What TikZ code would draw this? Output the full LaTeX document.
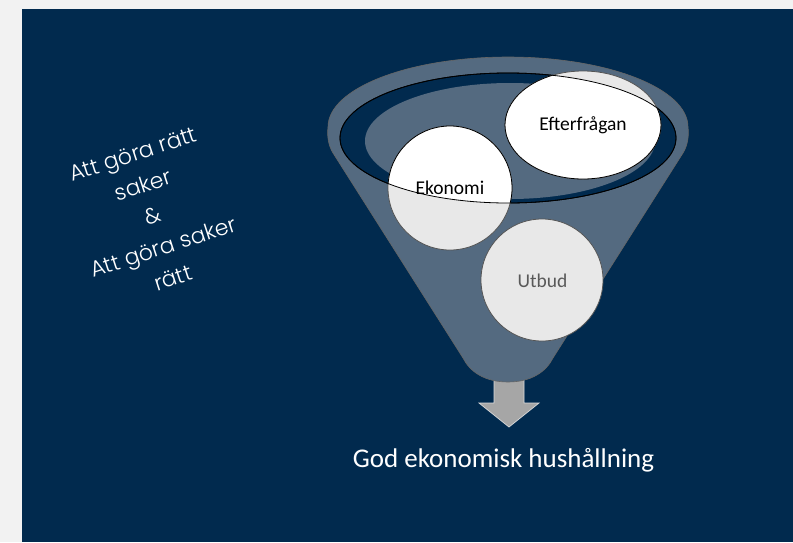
\documentclass[tikz,border=0pt]{standalone}
\usepackage{fontspec}
\setmainfont{Carlito}
\newfontfamily\hand{Poppins Light}
\usetikzlibrary{shapes.geometric}
\definecolor{pagegray}{HTML}{F2F2F2}
\definecolor{navy}{HTML}{012A4E}
\definecolor{funnelc}{HTML}{546A80}
\definecolor{ballgray}{HTML}{E8E8E8}
\definecolor{ringline}{HTML}{555555}
\definecolor{arrowgray}{HTML}{A6A6A6}
\definecolor{utbudtext}{HTML}{595959}
\tikzset{
  ball/.style={circle, fill=ballgray, draw=ringline, line width=0.8pt, inner sep=0pt},
  oval/.style={ellipse, fill=ballgray, draw=ringline, line width=0.8pt, inner sep=0pt},
  lbl/.style={font=\fontsize{19.5}{22}\selectfont, text=black, inner sep=0pt},
}
\begin{document}
\begin{tikzpicture}[x=1pt,y=-1pt]
\useasboundingbox (0,0) rectangle (793,542);
\fill[pagegray] (0,0) rectangle (793,542);
\fill[navy] (22,9) rectangle (793,542);

% arrow out of the funnel
\filldraw[fill=arrowgray, draw=white!85!black, line width=0.7pt]
  (494,380) -- (524,380) -- (524,403) -- (539,403) -- (509,427) -- (479,403) -- (494,403) -- cycle;

% funnel body and outer rim
\filldraw[fill=funnelc, draw=black!60, line width=0.6pt]
  (328,127) arc[start angle=180, end angle=360, x radius=180, y radius=70]
  .. controls (689,135) and (688,145) .. (683,153)
  -- (553,358) .. controls (546,372) and (531,382) .. (508,382)
  .. controls (485,382) and (470,372) .. (463,358)
  -- (333,153) .. controls (328,145) and (327,135) .. (328,127) -- cycle;

% inner opening
\filldraw[fill=navy, draw=black, line width=0.8pt] (508,138) ellipse[x radius=168, y radius=65];
\fill[funnelc] (510,141) ellipse[x radius=145, y radius=58];

% balls
\node[ball, minimum size=124pt] (eko) at (450,188) {};
\node[oval, minimum width=156pt, minimum height=108pt] (eft) at (583,125) {};
\node[ball, minimum size=122pt] (utb) at (542,280) {};

% parts inside the opening are white
\begin{scope}
  \clip (508,138) ellipse[x radius=168, y radius=65];
  \filldraw[fill=white, draw=black, line width=0.8pt] (eko.center) circle[radius=62];
  \filldraw[fill=white, draw=black, line width=0.8pt] (eft.center) ellipse[x radius=78, y radius=54];
\end{scope}
\draw[black, line width=0.8pt] (508,138) ellipse[x radius=168, y radius=65];

% labels
\node[lbl] (ekoT) at (eko.center) {Ekonomi};
\node[lbl] (eftT) at (eft.center) {Efterfrågan};
\node[lbl, text=utbudtext] (utbT) at (542.5,281) {Utbud};

\node[anchor=base, text=white, inner sep=0pt, font=\fontsize{27}{30}\selectfont] (result) at (503.5,467) {God ekonomisk hushållning};

\node[rotate=18, align=center, text=white, inner sep=0pt, font=\hand\fontsize{22}{32.6}\selectfont] (motto) at (153,216)
  {Att göra rätt\\saker\\\&\\Att göra saker\\rätt};
\end{tikzpicture}
\end{document}
